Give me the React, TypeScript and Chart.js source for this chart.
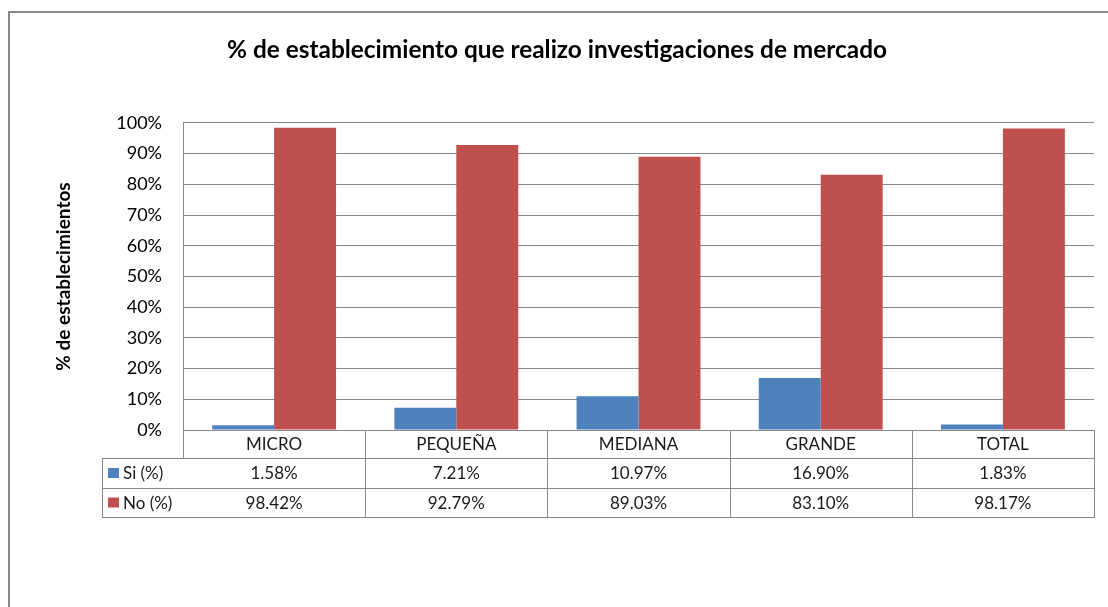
import React, { useEffect, useRef } from 'react';
import { Chart, registerables } from 'chart.js';

Chart.register(...registerables);

const chartTitle = '% de establecimiento que realizo investigaciones de mercado';
const yAxisTitle = '% de establecimientos';
const categories = ['MICRO', 'PEQUEÑA', 'MEDIANA', 'GRANDE', 'TOTAL'];
const seriesNames = ['Si (%)', 'No (%)'];
const siValues = [1.58, 7.21, 10.97, 16.9, 1.83];
const noValues = [98.42, 92.79, 89.03, 83.1, 98.17];
const seriesColors = ['#4F81BD', '#C0504D'];

const FONT = 'Lato, "Liberation Sans", sans-serif';
const LINE = '#898989';

const framePlugin = {
  id: 'frame',
  beforeDraw(chart: any) {
    const ctx = chart.ctx;
    ctx.save();
    ctx.fillStyle = '#ffffff';
    ctx.fillRect(0, 0, chart.width, chart.height);
    ctx.strokeStyle = '#878787';
    ctx.lineWidth = 2;
    ctx.beginPath();
    ctx.moveTo(9, chart.height);
    ctx.lineTo(9, 12);
    ctx.lineTo(chart.width, 12);
    ctx.stroke();
    ctx.restore();
  },
};

const tablePlugin = {
  id: 'dataTable',
  afterDraw(chart: any) {
    const ctx = chart.ctx;
    const area = chart.chartArea;
    const xs = chart.scales.x;
    const n = categories.length;
    const step = (area.right - area.left) / n;
    const top = area.bottom;
    const r1 = top + 28;
    const r2 = r1 + 30;
    const r3 = r2 + 29;
    const legendLeft = 102;
    const rows = [siValues, noValues];
    ctx.save();
    ctx.strokeStyle = LINE;
    ctx.lineWidth = 1;
    ctx.beginPath();
    for (const y of [r1, r2, r3]) {
      ctx.moveTo(legendLeft, Math.round(y) + 0.5);
      ctx.lineTo(area.right, Math.round(y) + 0.5);
    }
    ctx.moveTo(legendLeft + 0.5, Math.round(r1));
    ctx.lineTo(legendLeft + 0.5, Math.round(r3) + 1);
    ctx.moveTo(Math.round(area.left) + 0.5, top);
    ctx.lineTo(Math.round(area.left) + 0.5, r1);
    for (let i = 0; i < n; i++) {
      const bx = Math.round(xs.getPixelForValue(i) + step / 2) + 0.5;
      ctx.moveTo(bx, top);
      ctx.lineTo(bx, Math.round(r3) + 1);
    }
    ctx.stroke();

    ctx.fillStyle = '#1a1a1a';
    ctx.font = `17px ${FONT}`;
    ctx.textAlign = 'center';
    ctx.textBaseline = 'middle';
    categories.forEach((c, i) => {
      const cx = xs.getPixelForValue(i);
      ctx.fillText(c, cx, (top + r1) / 2 + 1);
      ctx.fillText(rows[0][i].toFixed(2) + '%', cx, (r1 + r2) / 2 + 1);
      ctx.fillText(rows[1][i].toFixed(2) + '%', cx, (r2 + r3) / 2 + 1);
    });
    const ys = [(r1 + r2) / 2, (r2 + r3) / 2];
    ctx.textAlign = 'left';
    seriesNames.forEach((s, k) => {
      ctx.fillStyle = seriesColors[k];
      ctx.fillRect(108, ys[k] - 5, 11, 10);
      ctx.fillStyle = '#1a1a1a';
      ctx.fillText(s, 123, ys[k] + 1);
    });
    ctx.restore();
  },
};

export default function App() {
  const ref = useRef<HTMLCanvasElement>(null);
  useEffect(() => {
    if (!ref.current) return;
    const chart = new Chart(ref.current, {
      type: 'bar',
      data: {
        labels: categories,
        datasets: [
          { label: seriesNames[0], data: siValues, backgroundColor: seriesColors[0], borderWidth: 0 },
          { label: seriesNames[1], data: noValues, backgroundColor: seriesColors[1], borderWidth: 0 },
        ],
      },
      options: {
        animation: false,
        responsive: false,
        layout: { padding: { left: 20, right: 14, top: 0, bottom: 0 } },
        datasets: { bar: { categoryPercentage: 0.68, barPercentage: 1 } },
        plugins: {
          legend: { display: false },
          tooltip: { enabled: false },
          title: {
            display: true,
            text: chartTitle,
            color: '#000',
            font: { family: FONT, size: 24.4, weight: 'bold' },
            padding: { top: 35.4, bottom: 58.3 },
          },
        },
        scales: {
          x: {
            grid: { display: false },
            border: { display: false },
            ticks: { display: false },
            afterFit: (s: any) => { s.height = 177; },
          },
          y: {
            min: 0,
            max: 100,
            ticks: {
              stepSize: 10,
              padding: 21,
              color: '#000',
              font: { family: FONT, size: 18 },
              callback: (v: any) => v + '%',
            },
            grid: { color: LINE, drawTicks: false, lineWidth: 1 },
            border: { display: true, color: LINE },
            title: {
              display: true,
              text: yAxisTitle,
              color: '#000',
              font: { family: FONT, size: 19, weight: 'bold' },
              padding: { top: 32.2, bottom: 0 },
            },
            afterFit: (s: any) => { s.width = 163; },
          },
        },
      },
      plugins: [framePlugin, tablePlugin],
    } as any);
    return () => chart.destroy();
  }, []);
  return (
    <div style={{ position: 'absolute', left: 0, top: 0, width: 1108, height: 607 }}>
      <canvas ref={ref} width={1108} height={607} />
    </div>
  );
}
